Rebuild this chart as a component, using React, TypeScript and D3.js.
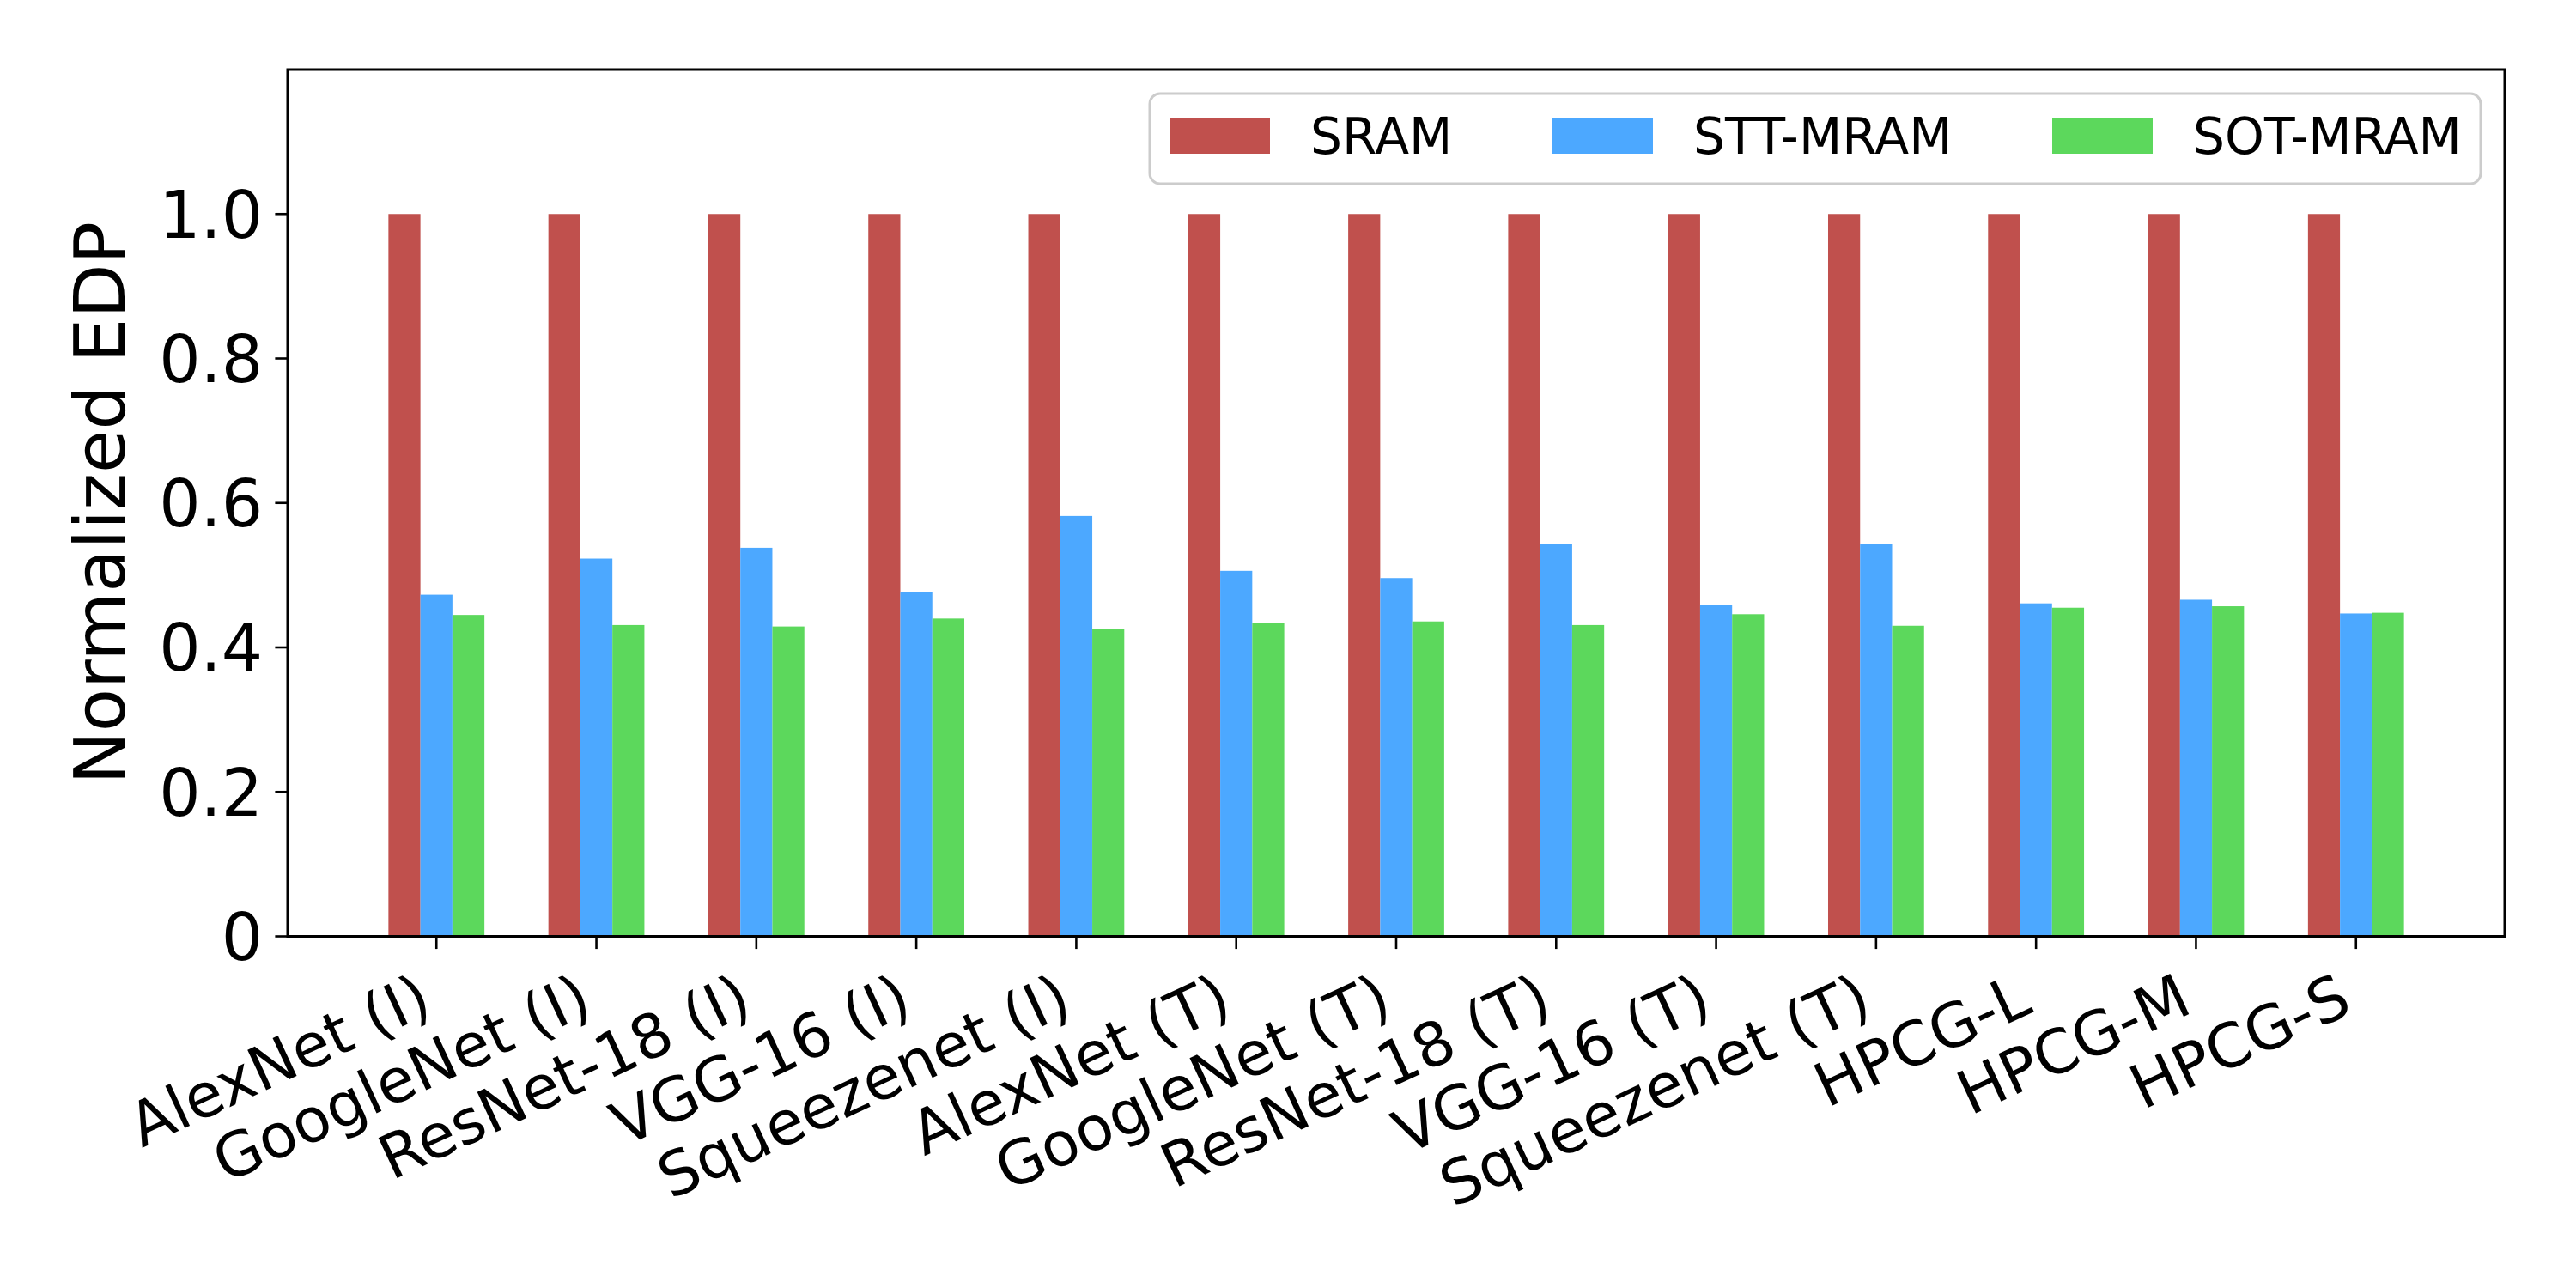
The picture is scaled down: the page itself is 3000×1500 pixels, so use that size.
import * as React from "react";
import * as d3 from "d3";

const categories = [
  "AlexNet (I)",
  "GoogleNet (I)",
  "ResNet-18 (I)",
  "VGG-16 (I)",
  "Squeezenet (I)",
  "AlexNet (T)",
  "GoogleNet (T)",
  "ResNet-18 (T)",
  "VGG-16 (T)",
  "Squeezenet (T)",
  "HPCG-L",
  "HPCG-M",
  "HPCG-S",
];

const sram = [1, 1, 1, 1, 1, 1, 1, 1, 1, 1, 1, 1, 1];
const sttMram = [0.473, 0.523, 0.538, 0.477, 0.582, 0.506, 0.496, 0.543, 0.459, 0.543, 0.461, 0.466, 0.447];
const sotMram = [0.445, 0.431, 0.429, 0.44, 0.425, 0.434, 0.436, 0.431, 0.446, 0.43, 0.455, 0.457, 0.448];

const seriesNames = ["SRAM", "STT-MRAM", "SOT-MRAM"];
const seriesColors = ["#c0504d", "#4ca8ff", "#5cd85c"];
const yTicks = [0, 0.2, 0.4, 0.6, 0.8, 1.0];

const W = 3000;
const H = 1500;
const left = 335;
const right = 2917;
const top = 81;
const bottom = 1090.5;
const font = "DejaVu Sans, sans-serif";

const App: React.FC = () => {
  const series = [sram, sttMram, sotMram];
  const barW = 0.2;

  const x = d3.scaleLinear().domain([-0.93, 12.93]).range([left, right]);
  const y = d3.scaleLinear().domain([0, 1.2]).range([bottom, top]);

  const fmt = (d: number) => (d === 0 ? "0" : d3.format(".1f")(d));

  // legend layout (matplotlib-like, ncol=3)
  const legX = [1362, 1808, 2390];
  const legTop = 138;

  return (
    <svg
      width={W}
      height={H}
      style={{ position: "absolute", left: 0, top: 0, background: "white" }}
      fontFamily={font}
    >
      <rect width={W} height={H} fill="white" />

      {/* bars */}
      {series.map((vals, s) => (
        <g key={s} fill={seriesColors[s]}>
          {vals.map((v, i) => {
            const x0 = x(i + (s - 1) * barW - barW / 2);
            const x1 = x(i + (s - 1) * barW + barW / 2);
            return (
              <rect key={i} x={x0} y={y(v)} width={x1 - x0} height={y(0) - y(v)} />
            );
          })}
        </g>
      ))}

      {/* y ticks */}
      {yTicks.map((t) => (
        <g key={t}>
          <line x1={left - 14.6} x2={left} y1={y(t)} y2={y(t)} stroke="black" strokeWidth={2.6} />
          <text
            x={left - 29}
            y={y(t)}
            dy="0.36em"
            textAnchor="end"
            fontSize={76}
          >
            {fmt(t)}
          </text>
        </g>
      ))}

      {/* x ticks */}
      {categories.map((c, i) => {
        const tx = x(i);
        const ax = tx - 2;
        const ay = 1178;
        return (
          <g key={c}>
            <line x1={tx} x2={tx} y1={bottom} y2={bottom + 14.6} stroke="black" strokeWidth={2.6} />
            <text
              x={ax}
              y={ay}
              textAnchor="end"
              fontSize={71}
              transform={`rotate(-25, ${ax}, ${ay})`}
            >
              {c}
            </text>
          </g>
        );
      })}

      {/* y label */}
      <text
        transform={`translate(145, ${(top + bottom) / 2}) rotate(-90)`}
        textAnchor="middle"
        fontSize={82}
      >
        Normalized EDP
      </text>

      {/* axes frame */}
      <rect
        x={left}
        y={top}
        width={right - left}
        height={bottom - top}
        fill="none"
        stroke="black"
        strokeWidth={3}
      />

      {/* legend */}
      <rect
        x={1339}
        y={109}
        width={1550}
        height={105}
        rx={12}
        fill="white"
        fillOpacity={0.8}
        stroke="#cccccc"
        strokeWidth={3}
      />
      {seriesNames.map((n, s) => (
        <g key={n}>
          <rect x={legX[s]} y={legTop} width={117} height={41} fill={seriesColors[s]} />
          <text x={legX[s] + 117 + 47} y={179} fontSize={58.3}>
            {n}
          </text>
        </g>
      ))}
    </svg>
  );
};

export default App;
